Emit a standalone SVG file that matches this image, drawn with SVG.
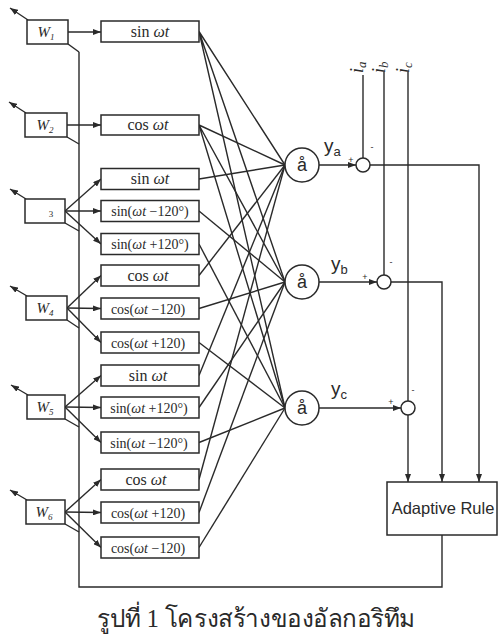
<svg xmlns="http://www.w3.org/2000/svg" width="498" height="641" viewBox="0 0 498 641">
<defs>
<marker id="ah" markerUnits="userSpaceOnUse" markerWidth="8" markerHeight="6" refX="8" refY="3" orient="auto">
<path d="M0,0 L8,3 L0,6 z" fill="#2a2a2a"/>
</marker>
</defs>
<style>
.bx{fill:#fff;stroke:#2a2a2a;stroke-width:1.5}
.ln{fill:none;stroke:#2a2a2a;stroke-width:1.4}
.ar{fill:none;stroke:#2a2a2a;stroke-width:1.4;marker-end:url(#ah)}
.fn{font-family:"Liberation Serif",serif;font-size:16px;fill:#2a2a2a;text-anchor:middle}
.fs{font-family:"Liberation Serif",serif;font-size:14px;fill:#2a2a2a;text-anchor:middle}
.w{font-family:"Liberation Serif",serif;font-size:15px;font-style:italic;fill:#2a2a2a;text-anchor:middle}
.sub{font-size:9px}
.sig{font-family:"Liberation Sans",sans-serif;font-size:18px;fill:#2a2a2a;text-anchor:middle}
.y{font-family:"Liberation Sans",sans-serif;font-size:19px;fill:#2a2a2a}
.pm{font-family:"Liberation Sans",sans-serif;font-size:9px;fill:#2a2a2a;text-anchor:middle}
.i{font-family:"Liberation Serif",serif;font-size:18px;font-style:italic;fill:#2a2a2a}
.it{font-style:italic}
</style>

<g id="connectors">
<path class="ar" d="M28,20 L10,8"/>
<path class="ar" d="M26,113 L9,102"/>
<path class="ar" d="M26,199 L10,189"/>
<path class="ar" d="M27,296 L10,286"/>
<path class="ar" d="M28,395 L11,385"/>
<path class="ar" d="M27,500 L10,490"/>
<path class="ar" d="M68,32 L101,32"/>
<path class="ar" d="M67,125 L101,125"/>
<path class="ar" d="M65,211 L101,179"/>
<path class="ar" d="M65,211 L101,211"/>
<path class="ar" d="M65,211 L101,244"/>
<path class="ar" d="M67,308 L101,275.5"/>
<path class="ar" d="M67,308 L101,308.5"/>
<path class="ar" d="M67,308 L101,342.5"/>
<path class="ar" d="M65,407 L101,375.5"/>
<path class="ar" d="M65,407 L101,407.5"/>
<path class="ar" d="M65,407 L101,442.5"/>
<path class="ar" d="M65,512 L101,479.5"/>
<path class="ar" d="M65,512 L101,512.5"/>
<path class="ar" d="M65,512 L101,547.5"/>
<path class="ln" d="M68,44 L79,52"/>
<path class="ln" d="M67,137 L79,144"/>
<path class="ln" d="M65,223 L79,231"/>
<path class="ln" d="M67,320 L79,328"/>
<path class="ln" d="M65,419 L79,427"/>
<path class="ln" d="M65,524 L79,532"/>
<path class="ln" d="M79,52 L79,587 L442,587 L442,535"/>
<path class="ln" d="M199,31.5 L285,165 M199,31.5 L285,282 M199,31.5 L285,408"/>
<path class="ln" d="M199,125 L285,165 M199,125 L285,282 M199,125 L285,408"/>
<path class="ln" d="M199,179 L285,165"/>
<path class="ln" d="M199,211 L285,282"/>
<path class="ln" d="M199,244 L285,408"/>
<path class="ln" d="M199,275.5 L285,165"/>
<path class="ln" d="M199,308.5 L285,282"/>
<path class="ln" d="M199,342.5 L285,408"/>
<path class="ln" d="M199,375.5 L285,165"/>
<path class="ln" d="M199,407.5 L285,282"/>
<path class="ln" d="M199,442.5 L285,408"/>
<path class="ln" d="M199,479.5 L285,165"/>
<path class="ln" d="M199,512.5 L285,282"/>
<path class="ln" d="M199,547.5 L285,408"/>
<path class="ar" d="M319,165 L356,165"/>
<path class="ar" d="M319,282 L377,282"/>
<path class="ar" d="M319,408 L401,408"/>
<path class="ln" d="M363,75 L363,158"/>
<path class="ln" d="M384,72 L384,275"/>
<path class="ln" d="M408,72 L408,401"/>
<path class="ar" d="M370,165 L479,165 L479,482"/>
<path class="ar" d="M391,282 L442,282 L442,482"/>
<path class="ar" d="M408,415 L408,482"/>
</g>

<g id="W1"><rect class="bx" x="27" y="20" width="41" height="24"/><text class="w" x="46" y="37">W<tspan class="sub" dy="3">1</tspan></text></g>
<g id="W2"><rect class="bx" x="25" y="113" width="42" height="24"/><text class="w" x="45" y="130">W<tspan class="sub" dy="3">2</tspan></text></g>
<g id="W3"><rect class="bx" x="25" y="199" width="40" height="24"/><text x="51" y="217" style="font-family:'Liberation Serif',serif;font-size:9px;fill:#2a2a2a;text-anchor:middle">3</text></g>
<g id="W4"><rect class="bx" x="26" y="296" width="41" height="24"/><text class="w" x="45" y="313">W<tspan class="sub" dy="3">4</tspan></text></g>
<g id="W5"><rect class="bx" x="27" y="395" width="38" height="24"/><text class="w" x="45" y="412">W<tspan class="sub" dy="3">5</tspan></text></g>
<g id="W6"><rect class="bx" x="26" y="500" width="39" height="24"/><text class="w" x="44" y="517">W<tspan class="sub" dy="3">6</tspan></text></g>

<g id="f1"><rect class="bx" x="101" y="21" width="98" height="21"/><text class="fn" x="150" y="37">sin <tspan class="it">ωt</tspan></text></g>
<g id="f2"><rect class="bx" x="101" y="115" width="98" height="20"/><text class="fn" x="148" y="130">cos <tspan class="it">ωt</tspan></text></g>
<g id="f3"><rect class="bx" x="101" y="168.5" width="98" height="21"/><text class="fn" x="150" y="184">sin <tspan class="it">ωt</tspan></text></g>
<g id="f4"><rect class="bx" x="101" y="200.5" width="98" height="21"/><text class="fs" x="150" y="216">sin(<tspan class="it">ωt</tspan> −120°)</text></g>
<g id="f5"><rect class="bx" x="101" y="233.5" width="98" height="21"/><text class="fs" x="150" y="249">sin(<tspan class="it">ωt</tspan> +120°)</text></g>
<g id="f6"><rect class="bx" x="101" y="265" width="98" height="21"/><text class="fn" x="148" y="280.5">cos <tspan class="it">ωt</tspan></text></g>
<g id="f7"><rect class="bx" x="101" y="298" width="98" height="21"/><text class="fs" x="148" y="313.5">cos(<tspan class="it">ωt</tspan> −120)</text></g>
<g id="f8"><rect class="bx" x="101" y="332" width="98" height="21"/><text class="fs" x="148" y="347.5">cos(<tspan class="it">ωt</tspan> +120)</text></g>
<g id="f9"><rect class="bx" x="101" y="365" width="98" height="21"/><text class="fn" x="148" y="380.5">sin <tspan class="it">ωt</tspan></text></g>
<g id="f10"><rect class="bx" x="101" y="397" width="98" height="21"/><text class="fs" x="149" y="412.5">sin(<tspan class="it">ωt</tspan> +120°)</text></g>
<g id="f11"><rect class="bx" x="101" y="432" width="98" height="21"/><text class="fs" x="149" y="447.5">sin(<tspan class="it">ωt</tspan> −120°)</text></g>
<g id="f12"><rect class="bx" x="101" y="469" width="98" height="21"/><text class="fn" x="146" y="484.5">cos <tspan class="it">ωt</tspan></text></g>
<g id="f13"><rect class="bx" x="101" y="502" width="98" height="21"/><text class="fs" x="148" y="517.5">cos(<tspan class="it">ωt</tspan> +120)</text></g>
<g id="f14"><rect class="bx" x="101" y="537" width="98" height="21"/><text class="fs" x="148" y="552.5">cos(<tspan class="it">ωt</tspan> −120)</text></g>

<g id="sumA"><circle class="bx" cx="302" cy="165" r="17"/><text class="sig" x="302" y="171">å</text></g>
<g id="sumB"><circle class="bx" cx="302" cy="282" r="17"/><text class="sig" x="302" y="288">å</text></g>
<g id="sumC"><circle class="bx" cx="302" cy="408" r="17"/><text class="sig" x="302" y="414">å</text></g>

<g id="errA"><circle class="bx" cx="363" cy="165" r="7"/><text class="pm" x="351" y="163">+</text><text class="pm" x="372" y="150">-</text></g>
<g id="errB"><circle class="bx" cx="384" cy="282" r="7"/><text class="pm" x="365" y="280">+</text><text class="pm" x="391" y="265">-</text></g>
<g id="errC"><circle class="bx" cx="408" cy="408" r="7"/><text class="pm" x="391" y="405">+</text><text class="pm" x="413" y="393">-</text></g>

<g id="labels">
<text class="y" x="324" y="152">y<tspan font-size="13" dy="4">a</tspan></text>
<text class="y" x="331" y="270">y<tspan font-size="13" dy="4">b</tspan></text>
<text class="y" x="331" y="395">y<tspan font-size="13" dy="4">c</tspan></text>
<text class="i" transform="translate(363,73) rotate(-90)">i<tspan font-size="13" dy="3">a</tspan></text>
<text class="i" transform="translate(385,73) rotate(-90)">i<tspan font-size="13" dy="3">b</tspan></text>
<text class="i" transform="translate(409,73) rotate(-90)">i<tspan font-size="13" dy="3">c</tspan></text>
</g>

<g id="adaptive"><rect class="bx" x="387" y="482" width="110" height="53"/><text font-family="'Liberation Sans',sans-serif" font-size="16.5" fill="#2a2a2a" x="443" y="514" text-anchor="middle">Adaptive Rule</text></g>

<text id="caption" font-family="'Liberation Serif',serif" font-size="25" fill="#2a2a2a" x="256" y="627" text-anchor="middle" textLength="318" lengthAdjust="spacingAndGlyphs">รูปที่ 1 โครงสร้างของอัลกอริทึม</text>
</svg>
